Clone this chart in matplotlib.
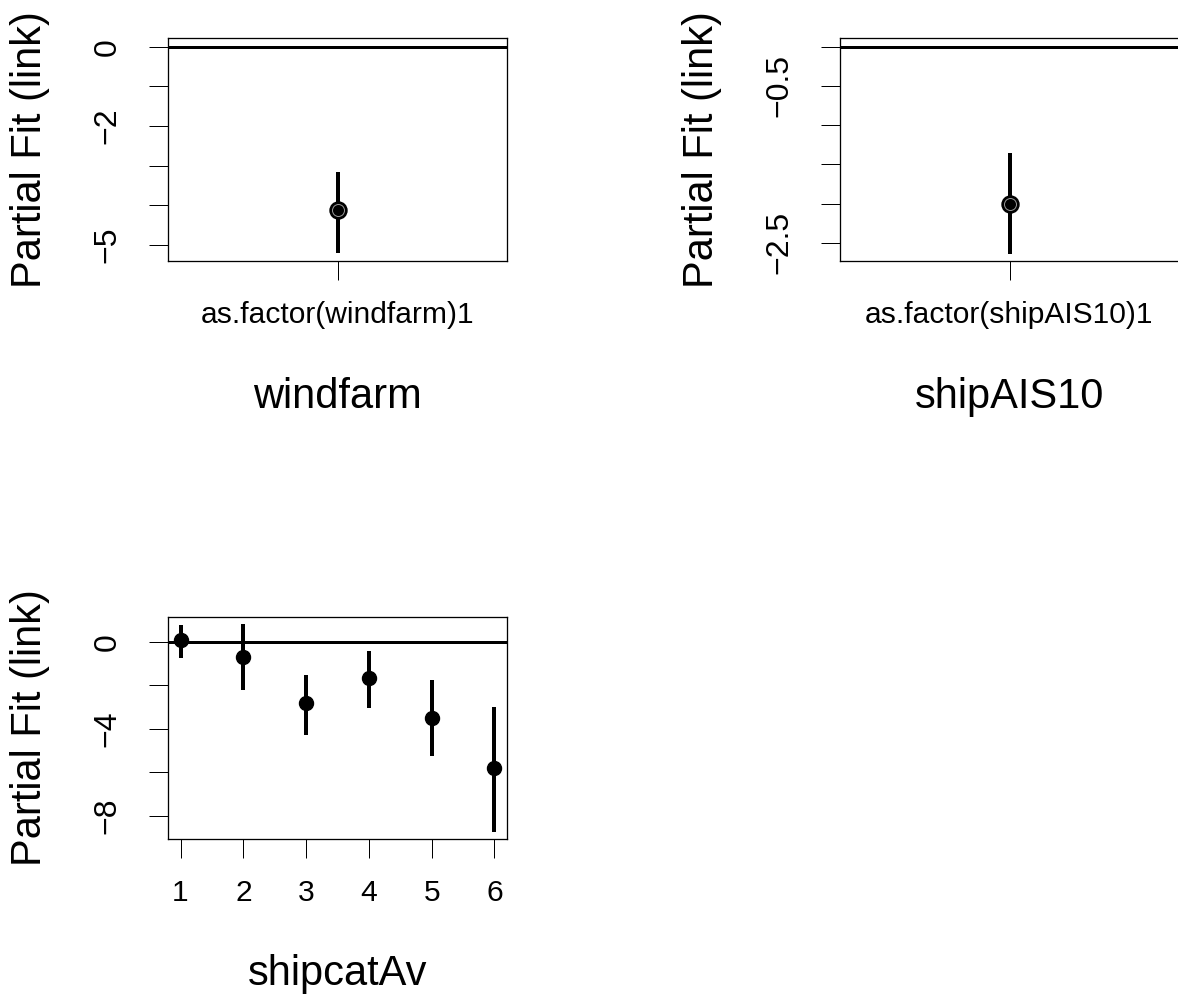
import matplotlib
matplotlib.use("Agg")
import matplotlib.pyplot as plt

plt.rcParams["font.family"] = ["Liberation Sans", "DejaVu Sans"]

# partial fits (link scale) with confidence intervals
windfarm_level = ["as.factor(windfarm)1"]
windfarm_fit = [-4.11]
windfarm_lo = [-5.20]
windfarm_hi = [-3.15]

shipais_level = ["as.factor(shipAIS10)1"]
shipais_fit = [-2.00]
shipais_lo = [-2.64]
shipais_hi = [-1.35]

shipcat_level = [1, 2, 3, 4, 5, 6]
shipcat_fit = [0.08, -0.69, -2.80, -1.65, -3.48, -5.82]
shipcat_lo = [-0.72, -2.22, -4.26, -3.06, -5.24, -8.76]
shipcat_hi = [0.77, 0.81, -1.53, -0.41, -1.73, -2.99]

PX = 0.72  # points per pixel at dpi=100
TICK_FS = 21.6
YTICK_FS = 23
LAB_FS = 30


def style_axis(ax, yticks, ylabels, ylim):
    for s in ax.spines.values():
        s.set_linewidth(1.3 * PX)
    ax.set_ylim(*ylim)
    ax.set_yticks(yticks)
    ax.set_yticklabels(ylabels, rotation=90, va="center", fontsize=YTICK_FS)
    ax.tick_params(axis="both", direction="out", length=19 * PX,
                   width=1.0 * PX, color="black")
    ax.tick_params(axis="y", pad=19)
    ax.tick_params(axis="x", pad=15, labelsize=TICK_FS)
    ax.axhline(0, color="black", linewidth=3 * PX, zorder=2)
    ax.annotate("Partial Fit (link)", xy=(0, 0.5), xycoords="axes fraction",
                xytext=(-138 * PX, 0), textcoords="offset points",
                rotation=90, ha="center", va="center", fontsize=LAB_FS)


def factor_panel(ax, labels, fit, lo, hi, name, yticks, ylabels, ylim):
    pos = list(range(1, len(labels) + 1))
    ax.vlines(pos, lo, hi, color="black", linewidth=4 * PX, zorder=3)
    ax.plot(pos, fit, "o", color="black", markersize=17 * PX, zorder=4)
    ax.plot(pos, fit, "o", mfc="none", mec="#9a9a9a", mew=0.7,
            markersize=12 * PX, zorder=5)
    ax.set_xlim(0, 2)
    ax.set_xticks(pos)
    ax.set_xticklabels(labels)
    style_axis(ax, yticks, ylabels, ylim)
    ax.annotate(name, xy=(0.5, 0), xycoords="axes fraction",
                xytext=(0, -136 * PX), textcoords="offset points",
                ha="center", va="center", fontsize=LAB_FS)


fig = plt.figure(figsize=(11.78, 9.94), dpi=100)
W, H = 1178, 994

ax1 = fig.add_axes([168 / W, 1 - 261 / H, 339 / W, 223 / H])
factor_panel(ax1, windfarm_level, windfarm_fit, windfarm_lo, windfarm_hi,
             "windfarm", [0, -1, -2, -3, -4, -5],
             ["0", "", "\u22122", "", "", "\u22125"], (-5.40, 0.219))

ax2 = fig.add_axes([840 / W, 1 - 261 / H, 339 / W, 223 / H])
factor_panel(ax2, shipais_level, shipais_fit, shipais_lo, shipais_hi,
             "shipAIS10", [0, -0.5, -1.0, -1.5, -2.0, -2.5],
             ["", "\u22120.5", "", "", "", "\u22122.5"], (-2.733, 0.111))

ax3 = fig.add_axes([168 / W, 1 - 839 / H, 339 / W, 222 / H])
ax3.vlines(shipcat_level, shipcat_lo, shipcat_hi, color="black",
           linewidth=4 * PX, zorder=3)
ax3.plot(shipcat_level, shipcat_fit, "o", color="black",
         markersize=14 * PX, zorder=4)
ax3.set_xlim(0.8, 6.2)
ax3.set_xticks(shipcat_level)
ax3.set_xticklabels([str(v) for v in shipcat_level])
style_axis(ax3, [0, -2, -4, -6, -8],
           ["0", "", "\u22124", "", "\u22128"], (-9.07, 1.15))
ax3.annotate("shipcatAv", xy=(0.5, 0), xycoords="axes fraction",
             xytext=(0, -135 * PX), textcoords="offset points",
             ha="center", va="center", fontsize=LAB_FS)

fig.savefig("out.png", dpi=100)
